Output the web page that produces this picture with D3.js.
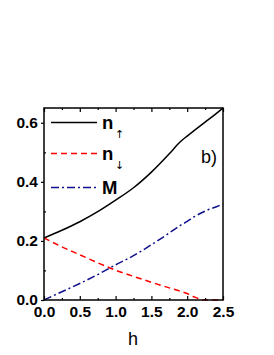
<!DOCTYPE html>
<html><head><meta charset="utf-8">
<script src="https://cdn.jsdelivr.net/npm/d3@7"></script>
<style>body{margin:0;background:#fff}svg{display:block}</style>
</head><body>
<script>
const hValues   = [0, 0.25, 0.5, 0.75, 1.0, 1.25, 1.5, 1.75, 1.9, 2.0, 2.1, 2.25, 2.4, 2.5];
const nUp       = [0.21, 0.236, 0.265, 0.299, 0.338, 0.38, 0.433, 0.495, 0.535, 0.555, 0.574, 0.602, 0.630, 0.65];
const nDown     = [0.21, 0.18, 0.153, 0.126, 0.101, 0.08, 0.06, 0.041, 0.03, 0.022, 0.01, 0.0, 0.0, 0.0];
const mValues   = [0, 0.028, 0.056, 0.086, 0.119, 0.15, 0.187, 0.227, 0.252, 0.266, 0.282, 0.301, 0.315, 0.325];
const xTicks    = [0, 0.5, 1.0, 1.5, 2.0, 2.5];
const yTicks    = [0, 0.2, 0.4, 0.6];
const seriesNames = ["n", "n", "M"];
const seriesSubs  = ["↑", "↓", ""];

const W = 274, H = 355;
const m = {l: 44, r: 223, t: 108, b: 300};
const svg = d3.select("body").append("svg").attr("width", W).attr("height", H);
const x = d3.scaleLinear().domain([0, 2.5]).range([m.l, m.r]);
const y = d3.scaleLinear().domain([0, 0.65]).range([m.b, m.t]);

const fontB = "'Liberation Sans', Arial, sans-serif";

// curves
const line = d3.line().x(d => x(d[0])).y(d => y(d[1])).curve(d3.curveMonotoneX);
const series = [
  {vals: nUp, color: "#000", dash: null},
  {vals: nDown, color: "#ff0000", dash: "6,4"},
  {vals: mValues, color: "#10108c", dash: "8,3,2,3"}
];
series.forEach(s => {
  svg.append("path").datum(hValues.map((h,i)=>[h, s.vals[i]]))
    .attr("d", line).attr("fill","none").attr("stroke", s.color)
    .attr("stroke-width", 1.5).attr("stroke-dasharray", s.dash);
});

// axes
const minorX = [0.25,0.75,1.25,1.75,2.25];
const xAxisB = d3.axisBottom(x).tickValues(xTicks).tickSize(-4).tickPadding(6).tickFormat(d3.format(".1f"));
svg.append("g").attr("transform", `translate(0,${m.b})`).call(xAxisB);
svg.append("g").attr("transform", `translate(0,${m.b})`).call(d3.axisBottom(x).tickValues(minorX).tickSize(-2).tickFormat(""));
svg.append("g").attr("transform", `translate(0,${m.t})`).call(d3.axisTop(x).tickValues(xTicks).tickSize(-4).tickFormat(""));
svg.append("g").attr("transform", `translate(0,${m.t})`).call(d3.axisTop(x).tickValues(minorX).tickSize(-2).tickFormat(""));

const yAxis = d3.axisLeft(y).tickValues(yTicks).tickSize(3).tickPadding(3).tickFormat(d3.format(".1f"));
svg.append("g").attr("transform", `translate(${m.l},0)`).call(yAxis);
svg.append("g").attr("transform", `translate(${m.l},0)`).call(d3.axisLeft(y).tickValues([0.1,0.3,0.5]).tickSize(-2).tickFormat(""));

svg.selectAll(".domain").remove();
svg.selectAll(".tick line").attr("stroke","#000").attr("stroke-width",1.2);
svg.selectAll(".tick text").attr("font-family", fontB).attr("font-weight","bold")
  .attr("font-size", 15.5).attr("fill","#000");

// frame
svg.append("rect").attr("x", m.l).attr("y", m.t).attr("width", m.r - m.l).attr("height", m.b - m.t)
  .attr("fill","none").attr("stroke","#000").attr("stroke-width",1.5);

// x label
svg.append("text").attr("x", 133).attr("y", 345).attr("text-anchor","middle")
  .attr("font-family", fontB).attr("font-size", 18).text("h");

// panel label
svg.append("text").attr("x", 201).attr("y", 163)
  .attr("font-family", fontB).attr("font-size", 18).text("b)");

// legend
const legY = [122.5, 153.5, 187.5];
series.forEach((s, i) => {
  svg.append("line").attr("x1", 51).attr("x2", 97).attr("y1", legY[i]).attr("y2", legY[i])
    .attr("stroke", s.color).attr("stroke-width", 1.5).attr("stroke-dasharray", s.dash);
  svg.append("text").attr("x", 102).attr("y", legY[i] + 6.5)
    .attr("font-family", fontB).attr("font-weight","bold").attr("font-size", 18.5).text(seriesNames[i]);
  if (seriesSubs[i]) {
    svg.append("text").attr("x", 115).attr("y", legY[i] + 15)
      .attr("font-family", "'DejaVu Sans', sans-serif").attr("font-size", 11).text(seriesSubs[i]);
  }
});
</script>
</body></html>
